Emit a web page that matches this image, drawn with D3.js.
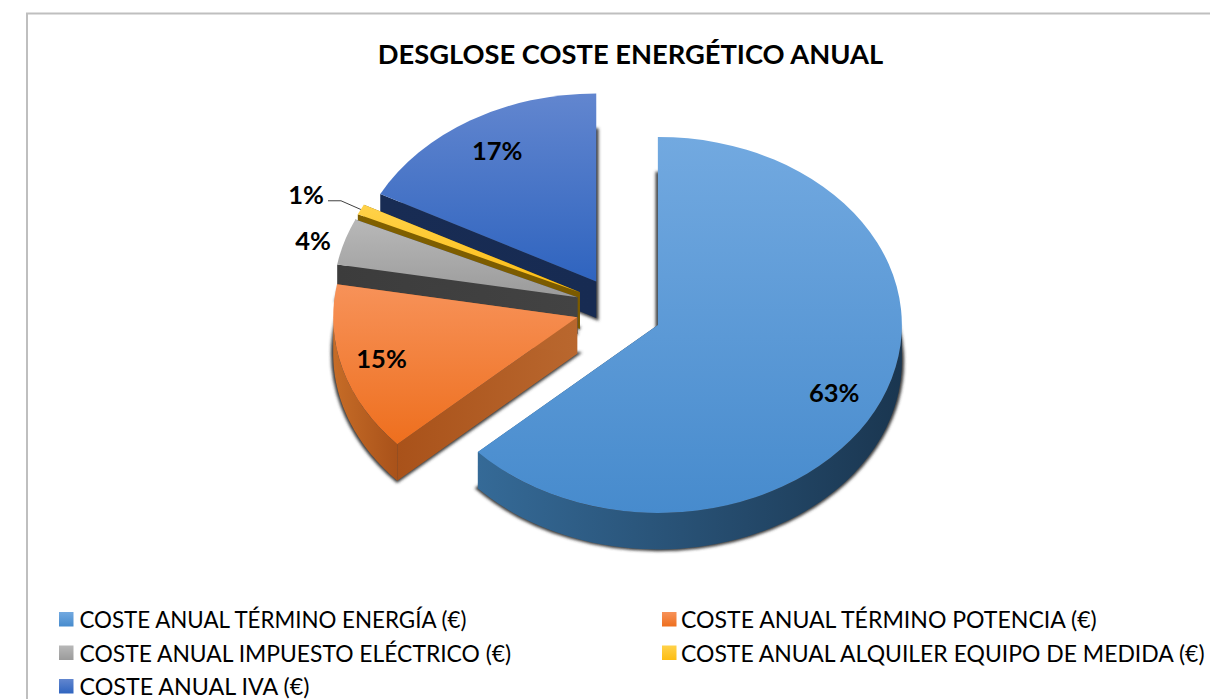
<!DOCTYPE html>
<html>
<head>
<meta charset="utf-8">
<script src="https://cdnjs.cloudflare.com/ajax/libs/d3/7.8.5/d3.min.js"></script>
<style>
  html, body { margin: 0; padding: 0; background: #fff; overflow: hidden; }
  text { font-family: Lato, "Open Sans", sans-serif; fill: #000; }
</style>
</head>
<body>
<svg id="chart" width="1210" height="699"></svg>
<script>
// Dades
const chartTitle = "DESGLOSE COSTE ENERGÉTICO ANUAL";
const categories = [
    "COSTE ANUAL TÉRMINO ENERGÍA (€)",
    "COSTE ANUAL TÉRMINO POTENCIA (€)",
    "COSTE ANUAL IMPUESTO ELÉCTRICO (€)",
    "COSTE ANUAL ALQUILER EQUIPO DE MEDIDA (€)",
    "COSTE ANUAL IVA (€)"
];
const shares = [0.632, 0.146, 0.04, 0.009, 0.173];

// Colors: cara superior (dalt, baix), paret corba i paret radial (esquerra, dreta)
const topColors = [["#72a9e0", "#478bcd"], ["#f79259", "#ee6f1e"], ["#b8b8b8", "#9b9b9b"], ["#ffd24a", "#fdbd12"], ["#6286cf", "#2f64bf"]];
const wallColors = [["#356a97", "#1a3650"], ["#c66c27", "#a9521a"], ["#3c3c3c", "#434343"], ["#806000", "#7a5a00"], ["#162a50", "#1a315e"]];
const sideColors = [["#356a97", "#1a3650"], ["#a9521a", "#b9672e"], ["#3c3c3c", "#434343"], ["#806000", "#7a5a00"], ["#182c54", "#172b52"]];

// Geometria
const cx = 618.5, cy = 308, rx = 244, ry = 188, depth = 36.5;
const explodeX = 43;
const explodeY = [42, 33, 36, 36, 31];
// Etiquetes: factor de radi, ajust vertical i amplada de la llegenda
const labelRadius = [0.79, 0.835, 1.135, 1.25, 0.785];
const labelShift = [7, -3, 6, 5, -5];
const legendWidths = [387, 416, 432, 524, 230];

const svg = d3.select("#chart");
const defs = svg.append("defs");

function addGradient(id, colors, horizontal) {
    const g = defs.append("linearGradient").attr("id", id)
        .attr("x1", 0).attr("y1", 0)
        .attr("x2", horizontal ? 1 : 0).attr("y2", horizontal ? 0 : 1);
    g.append("stop").attr("offset", "0%").attr("stop-color", colors[0]);
    g.append("stop").attr("offset", "100%").attr("stop-color", colors[1]);
}
topColors.forEach((c, i) => addGradient("top" + i, c, false));
wallColors.forEach((c, i) => addGradient("wall" + i, c, true));
sideColors.forEach((c, i) => addGradient("side" + i, c, true));

const blur = defs.append("filter").attr("id", "soft")
    .attr("x", "-10%").attr("y", "-10%").attr("width", "120%").attr("height", "120%");
blur.append("feGaussianBlur").attr("stdDeviation", 1.8);

// Marc del gràfic
svg.append("path")
    .attr("d", d3.line()([[27, 699], [27, 13.5], [1210, 13.5]]))
    .attr("fill", "none").attr("stroke", "#bfbfbf").attr("stroke-width", 2);

// Títol
svg.append("text")
    .attr("x", 630.5).attr("y", 64)
    .attr("text-anchor", "middle")
    .attr("font-size", 27.3).attr("font-weight", 700)
    .text(chartTitle);

// Angles del pastís
const pie = d3.pie().sort(null).value(d => d);
const slices = pie(shares).map((s, i) => {
    const mid = (s.startAngle + s.endAngle) / 2;
    return {
        ...s, i, mid,
        ax: cx + explodeX * Math.sin(mid),
        ay: cy - explodeY[i] * Math.cos(mid)
    };
});

const topArc = d3.arc().innerRadius(0).outerRadius(rx);
const outline = d3.line();
const project = (s, a, r, dz) => [s.ax + r * rx * Math.sin(a), s.ay - r * ry * Math.cos(a) + dz];

function radialWall(s, a) {
    return outline([project(s, a, 0, 0), project(s, a, 1, 0), project(s, a, 1, depth), project(s, a, 0, depth)]) + "Z";
}

function curvedWall(s) {
    const from = Math.max(s.startAngle, Math.PI / 2);
    const to = Math.min(s.endAngle, 3 * Math.PI / 2);
    if (to <= from) return null;
    const angles = d3.range(0, 61).map(k => from + (to - from) * k / 60);
    const upper = angles.map(a => project(s, a, 1, 0));
    const lower = angles.slice().reverse().map(a => project(s, a, 1, depth));
    return outline(upper.concat(lower)) + "Z";
}

// Es dibuixa de darrere cap endavant
const order = [4, 3, 2, 1, 0];
order.forEach(i => {
    const s = slices[i];
    const g = svg.append("g");
    const scaled = `translate(${s.ax},${s.ay}) scale(1,${ry / rx})`;

    // Ombra: la base de la porció, una mica eixamplada
    g.append("path")
        .attr("d", topArc(s))
        .attr("transform", `translate(${s.ax},${s.ay + depth}) scale(1,${ry / rx})`)
        .attr("fill", "#3a3a3a").attr("stroke", "#3a3a3a").attr("stroke-width", 4.5)
        .attr("filter", "url(#soft)");

    // Parets
    [s.startAngle, s.endAngle].forEach(a => {
        g.append("path").attr("d", radialWall(s, a)).attr("fill", `url(#side${i})`);
    });
    const curved = curvedWall(s);
    if (curved) g.append("path").attr("d", curved).attr("fill", `url(#wall${i})`);

    // Cara superior
    g.append("path")
        .attr("d", topArc(s))
        .attr("transform", scaled)
        .attr("fill", `url(#top${i})`);
});

// Etiquetes de percentatge
const fmt = d3.format(".0%");
const labelPos = slices.map(s => project(s, s.mid, labelRadius[s.i], labelShift[s.i]));

// Línia guia de l'1%
const guide = project(slices[3], slices[3].mid, 1, 0);
svg.append("path")
    .attr("d", outline([[labelPos[3][0] + 22, labelPos[3][1] + 7], [labelPos[3][0] + 35, labelPos[3][1] + 7], guide]))
    .attr("fill", "none").attr("stroke", "#404040").attr("stroke-width", 1);

svg.selectAll(".pct")
    .data(slices)
    .enter()
    .append("text")
    .attr("class", "pct")
    .attr("x", (d, i) => labelPos[i][0])
    .attr("y", (d, i) => labelPos[i][1])
    .attr("text-anchor", "middle")
    .attr("dominant-baseline", "central")
    .attr("font-size", 25.5).attr("font-weight", 700)
    .text(d => fmt(d.data));

// Llegenda
const legendX = d3.scalePoint().domain([0, 1]).range([59, 662]);
const legendY = d3.scalePoint().domain([0, 1, 2]).range([619, 686]);
const legend = svg.selectAll(".legend")
    .data(categories)
    .enter()
    .append("g")
    .attr("class", "legend")
    .attr("transform", (d, i) => `translate(${legendX(i % 2)},${legendY(Math.floor(i / 2))})`);
legend.append("rect")
    .attr("x", 0).attr("y", -7).attr("width", 14.5).attr("height", 14.5)
    .attr("fill", (d, i) => `url(#top${i})`);
legend.append("text")
    .attr("dominant-baseline", "central")
    .attr("font-size", 23.5)
    .text(d => d)
    .attr("transform", function (d, i) {
        // Ajusta l'amplada del text a la mesura de la llegenda
        const sx = legendWidths[i] / this.getComputedTextLength();
        return `translate(${i % 2 ? 19 : 20.5},0) scale(${sx},1)`;
    });
</script>
</body>
</html>
